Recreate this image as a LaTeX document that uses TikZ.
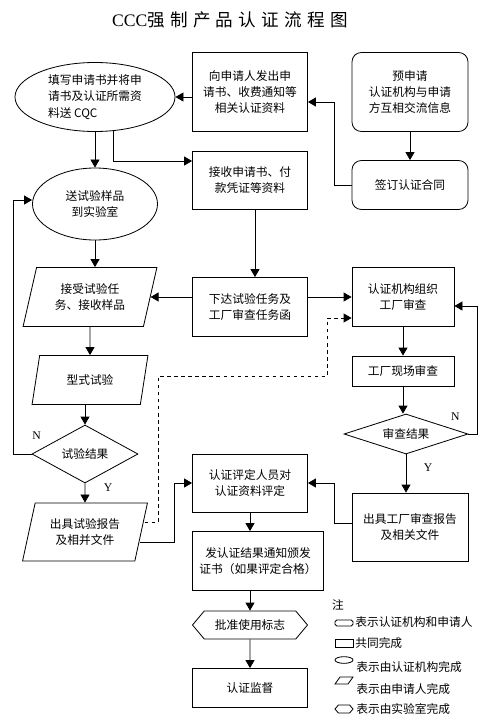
\documentclass[tikz,border=0pt]{standalone}
\usepackage{fontspec}
\setmainfont{Noto Sans CJK SC}
\newfontfamily\latinserif{Liberation Serif}
\newfontfamily\titlecjk{Noto Sans CJK SC}[LetterSpace=30]
\usetikzlibrary{shapes,positioning,calc,arrows.meta}

\begin{document}
\begin{tikzpicture}[x=0.03cm, y=-0.03cm, line width=0.7pt,
    font=\fontsize{10}{14}\selectfont,
    box/.style={draw, align=center, inner sep=2pt},
    rbox/.style={box, rounded corners=8pt},
    oval/.style={draw, ellipse, align=center, inner sep=0pt},
    para/.style={draw, trapezium, trapezium stretches=true, trapezium left angle=72,
        trapezium right angle=108, align=center, inner sep=0pt},
    hexa/.style={draw, signal, signal to=west and east, signal pointer angle=100, inner sep=1pt},
    judge/.style={draw, diamond, inner sep=0pt},
    arr/.style={-{Triangle[length=0.24cm, width=0.27cm]}},
    lbl/.style={font=\latinserif\fontsize{10}{12}\selectfont}]
            \useasboundingbox (0,0) rectangle (490,727); % one unit = one pixel of the reference

            \node (title) at (230,20) {\fontsize{15}{18}\selectfont\latinserif CCC\titlecjk 强制产品认证流程图};

            % top row
            \node[oval, align=left, minimum width=4.8cm, minimum height=2.07cm] (tianxie) at (95,97) {填写申请书并将申\\请书及认证所需资\\料送 CQC};
            \node[box, minimum width=3.45cm, minimum height=2.37cm] (fachu) at (250,92) {向申请人发出申\\请书、收费通知等\\相关认证资料};
            \node[rbox, minimum width=3.48cm, minimum height=2.37cm] (yushen) at (410,92) {预申请\\认证机构与申请\\方互相交流信息};
            \node[rbox, minimum width=3.48cm, minimum height=1.47cm] (qianding) at (410,185) {签订认证合同};
            \node[box, minimum width=3.45cm, minimum height=1.74cm] (jieshou) at (250,180) {接收申请书、付\\款凭证等资料};
            \node[oval, minimum width=3.75cm, minimum height=2.16cm] (songyang) at (95,204) {送试验样品\\到实验室};

            % test branch
            \node[para, minimum width=4.02cm, minimum height=1.77cm] (jieshourw) at (90,297) {接受试验任\\务、接收样品};
            \node[para, minimum width=3.48cm, minimum height=1.47cm] (xingshi) at (90,380) {型式试验};
            \node[judge, aspect=1.8, minimum width=3.18cm, minimum height=1.74cm] (shiyan) at (85,454) {试验结果};
            \node[para, minimum width=3.75cm, minimum height=1.74cm] (baogao) at (85,532) {出具试验报告\\及相并文件};

            % middle column
            \node[box, minimum width=3.45cm, minimum height=1.77cm] (xiada) at (250,307) {下达试验任务及\\工厂审查任务函};
            \node[box, minimum width=3.45cm, minimum height=1.74cm] (pingding) at (250,483) {认证评定人员对\\认证资料评定};
            \node[box, minimum width=3.93cm, minimum height=1.77cm] (fazheng) at (258,561) {发认证结果通知颁发\\证书（如果评定合格）};
            \node[hexa, minimum width=3.45cm, minimum height=0.84cm] (pizhun) at (250,625) {批准使用标志};
            \node[box, minimum width=3.45cm, minimum height=1.17cm] (jiandu) at (250,688) {认证监督};

            % factory branch
            \node[box, minimum width=3.06cm, minimum height=1.77cm] (zuzhi) at (403,297) {认证机构组织\\工厂审查};
            \node[box, minimum width=3.06cm, minimum height=0.9cm] (xianchang) at (403,371) {工厂现场审查};
            \node[judge, aspect=3, minimum width=3.72cm, minimum height=1.2cm] (shencha) at (406,434) {审查结果};
            \node[box, minimum width=3.48cm, minimum height=2.04cm] (gcbaogao) at (410,527) {出具工厂审查报告\\及相关文件};

            \node[lbl] (n1) at ($(shiyan.west)+(5,-18)$) {N};
            \node[lbl] (y1) at ($(shiyan.south)+(23,4)$) {Y};
            \node[lbl] (n2) at ($(shencha.east)+(-13,-17)$) {N};
            \node[lbl] (y2) at ($(shencha.south)+(22,13)$) {Y};

            \draw[arr] (fachu.west |- tianxie.east) -- (tianxie.east);
            \draw[arr] (qianding.west) -- ++(-17,0) |- ([yshift=-0.3cm]fachu.east);
            \draw[arr] (yushen) -- (qianding);
            \draw[arr] (tianxie) -- (songyang);
            \draw[arr] (tianxie.-62) |- ([yshift=0.57cm]jieshou.west);
            \draw[arr] (songyang.south) -- (songyang.south |- jieshourw.north);
            \draw[arr] ([xshift=0.15cm]jieshou.south) -- ([xshift=0.15cm]xiada.north);
            \draw[arr] (xiada.west |- jieshourw.east) -- (jieshourw.east);
            \draw[arr] (xiada.east |- zuzhi.west) -- (zuzhi.west);
            \draw[arr] (jieshourw) -- (xingshi);
            \draw[arr] (xingshi.south -| shiyan.north) -- (shiyan.north);
            \draw[arr] (shiyan) -- (baogao);
            \draw[arr] (shiyan.west) -- ++(-18,0) |- ([yshift=0.12cm]songyang.west);
            \draw[arr, dashed] ($(baogao.east)+(3,-10)$) -- ++(14,0) -- ++(0,-146) -- ++(169,0) |- ([yshift=-0.63cm]zuzhi.west);
            \draw[arr] ($(baogao.east)+(-2,10)$) -- ++(35,0) |- (pingding.west);
            \draw[arr] (zuzhi) -- (xianchang);
            \draw[arr] (xianchang.south) -- (xianchang.south |- shencha.north);
            \draw[arr] (shencha.east) -- ++(9,0) |- ([yshift=-0.27cm]zuzhi.east);
            \draw[arr] (shencha.south) -- (shencha.south |- gcbaogao.north);
            \draw[arr] ([yshift=0.12cm]gcbaogao.west) -- ++(-17,0) |- (pingding.east);
            \draw[arr] (pingding.south) -- (pingding.south |- fazheng.north);
            \draw[arr] (fazheng.south -| pizhun) -- (pizhun.north);
            \draw[arr] (pizhun) -- (jiandu);

            % legend
            \node (zhu) at (338,605) {注};
            \node[draw, rounded corners=1.5pt, minimum width=0.54cm, minimum height=0.18cm, inner sep=0pt] (k1) at (344,623) {};
            \node[anchor=west] (t1) at (351,622) {表示认证机构和申请人};
            \node[draw, minimum width=0.54cm, minimum height=0.24cm, inner sep=0pt] (k2) at (344,643) {};
            \node[anchor=west] (t2) at (351,643) {共同完成};
            \node[draw, ellipse, minimum width=0.54cm, minimum height=0.2cm, inner sep=0pt] (k3) at (344,660) {};
            \node[anchor=west] (t3) at (352,667) {表示由认证机构完成};
            \draw (335,684) -- (340,677) -- (353,677) -- (348,684) -- cycle;
            \node[anchor=west] (t4) at (352,689) {表示由申请人完成};
            \node[hexa, minimum width=0.54cm, minimum height=0.24cm, inner sep=0pt] (k5) at (344,709) {};
            \node[anchor=west] (t5) at (352,709) {表示由实验室完成};

        \end{tikzpicture}
\end{document}
